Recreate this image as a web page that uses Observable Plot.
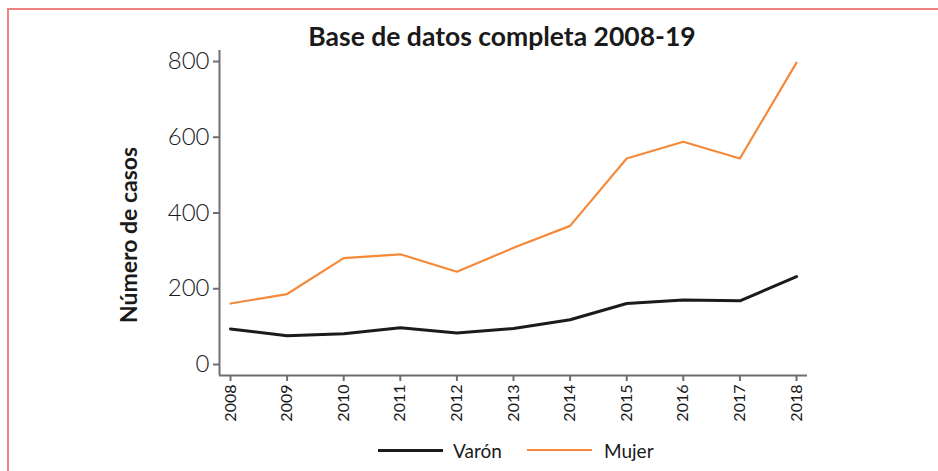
<!DOCTYPE html>
<html><head><meta charset="utf-8">
<script src="https://cdn.jsdelivr.net/npm/d3@7"></script>
<script src="https://cdn.jsdelivr.net/npm/@observablehq/plot@0.6"></script>
<style>
body{margin:0;background:#fff;}
#wrap{position:relative;width:938px;height:471px;overflow:hidden;font-family:Lato,"Open Sans",sans-serif;color:#1a1a1a;}
#border{position:absolute;left:7px;top:8px;right:-5px;bottom:-5px;border-top:2px solid #f08282;border-left:2px solid #f08282;}
#chart{position:absolute;left:0;top:0;}
#title{position:absolute;left:502px;top:36px;transform:translate(-50%,-50%);font-weight:700;font-size:26.5px;white-space:nowrap;}
#ylab{position:absolute;left:128px;top:235px;transform:translate(-50%,-50%) rotate(-90deg);font-weight:700;font-size:23px;white-space:nowrap;}
#legend{position:absolute;top:450px;left:0;width:938px;height:0;}
.sw{position:absolute;height:0;top:0;}
.lt{position:absolute;top:0;transform:translateY(-50%);font-size:19px;font-weight:400;white-space:nowrap;}
svg{color:#1a1a1a;}
svg text{font-weight:400;fill:#1a1a1a;}
svg g[aria-label="y-axis tick label"] text{font-weight:300;}
</style></head>
<body>
<div id="wrap">
<div id="border"></div>
<div id="chart"></div>
<div id="title">Base de datos completa 2008-19</div>
<div id="ylab">Número de casos</div>
<div id="legend">
  <div class="sw" style="left:378px;width:65px;border-top:3px solid #1b1b1f;margin-top:-1.5px"></div>
  <div class="lt" style="left:453px">Varón</div>
  <div class="sw" style="left:527px;width:65px;border-top:2px solid #f5893a;margin-top:-1px"></div>
  <div class="lt" style="left:604px">Mujer</div>
</div>
</div>
<script>
const years = [2008, 2009, 2010, 2011, 2012, 2013, 2014, 2015, 2016, 2017, 2018];
const varon = [94, 76, 81, 97, 83, 95, 118, 161, 170, 168, 232];
const mujer = [161, 186, 281, 291, 245, 308, 366, 544, 588, 544, 797];
const yTicks = [0, 200, 400, 600, 800];
const seriesNames = ["Varón", "Mujer"];
const seriesColors = ["#1b1b1f", "#f5893a"];

const varonData = years.map((y, i) => ({year: y, casos: varon[i]}));
const mujerData = years.map((y, i) => ({year: y, casos: mujer[i]}));

const axisGray = "#6e6e73";
const chart = Plot.plot({
  width: 938, height: 471,
  marginLeft: 219, marginRight: 131, marginTop: 50, marginBottom: 96,
  insetLeft: 11, insetRight: 11, insetTop: 11, insetBottom: 11,
  style: {fontFamily: "Lato, 'Open Sans', sans-serif", background: "transparent", overflow: "visible"},
  x: {domain: [2008, 2018]},
  y: {domain: [0, 800]},
  marks: [
    Plot.ruleX([years[0]], {dx: -11, stroke: axisGray, strokeWidth: 2}),
    Plot.ruleY([0], {dy: 11, stroke: axisGray, strokeWidth: 2}),
    Plot.axisY({ticks: yTicks, tickSize: 6, tickPadding: 4, fontSize: 24, label: null,
      stroke: axisGray, strokeWidth: 2, fill: "#1a1a1a"}),
    Plot.axisX({ticks: years, tickFormat: d => String(d), tickRotate: -90, tickSize: 6, tickPadding: 3,
      fontSize: 16, label: null, stroke: axisGray, strokeWidth: 2, fill: "#1a1a1a"}),
    Plot.line(varonData, {x: "year", y: "casos", stroke: seriesColors[0], strokeWidth: 3}),
    Plot.line(mujerData, {x: "year", y: "casos", stroke: seriesColors[1], strokeWidth: 2.2})
  ]
});
document.getElementById("chart").appendChild(chart);
</script>
</body></html>
